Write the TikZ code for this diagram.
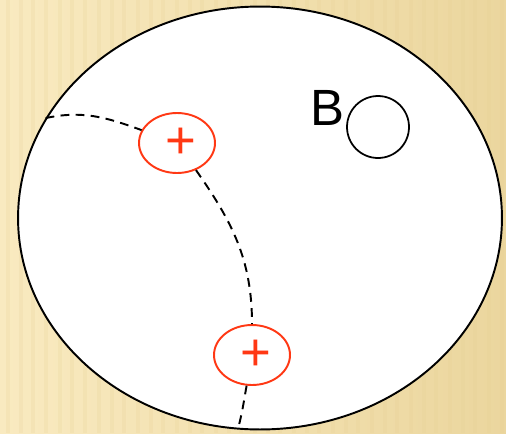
\documentclass[tikz,border=0pt]{standalone}
\usepackage{fontspec}
\setmainfont{Liberation Sans}
\usepackage{tikz}
\usetikzlibrary{shapes.geometric}
\definecolor{paper}{HTML}{F9EAC0}
\definecolor{paperdark}{HTML}{EBD69E}
\definecolor{stripe}{HTML}{E6CF92}
\definecolor{charge}{HTML}{FF3814}

\begin{document}
\begin{tikzpicture}[x=0.02cm, y=-0.02cm,
  cellbox/.style={draw, ellipse, fill=white, line width=1.1pt, inner sep=0pt,
                  minimum width=9.68cm, minimum height=8.46cm},
  ion/.style={draw=charge, ellipse, line width=1.1pt, inner sep=0pt, text=charge,
              minimum width=1.52cm, minimum height=1.2cm,
              font=\fontsize{30}{30}\selectfont},
  probe/.style={draw, circle, line width=1pt, inner sep=0pt, minimum size=1.24cm},
  path/.style={line width=1.1pt, dash pattern=on 5pt off 3.6pt}]
  % striped paper background
  \useasboundingbox (0,0) rectangle (506,433);
  \shade[left color=paper, right color=paperdark] (0,0) rectangle (506,433);
  \foreach \x in {6,19,31,44,58,70,83,97,110,122,136,149,161,175,188,200,214,227,
                  239,253,266,278,292,305,317,331,344,356,370,383,395,409,422,434,
                  448,461,473,487,500}
    \fill[stripe, opacity=0.2] (\x,0) rectangle (\x+4,433);
  % cell and the two charges
  \node[cellbox] (cell) at (260,218) {};
  \node[ion] (q1) at (177,143) {\hspace{0.16cm}+};
  \node[ion] (q2) at (252,355) {\hspace{0.16cm}+};
  % test charge B
  \node[probe] (b) at (378,127) {};
  \node[inner sep=0pt, font=\fontsize{29}{29}\selectfont] (blabel) at (327,108) {B};
  % dashed path through the charges
  \draw[path] (cell.155) to[out=12, in=160] (q1);
  \draw[path] (q1) to[out=-55, in=90] (q2);
  \draw[path] (q2) to[out=-100, in=75] (cell.264);
\end{tikzpicture}
\end{document}
